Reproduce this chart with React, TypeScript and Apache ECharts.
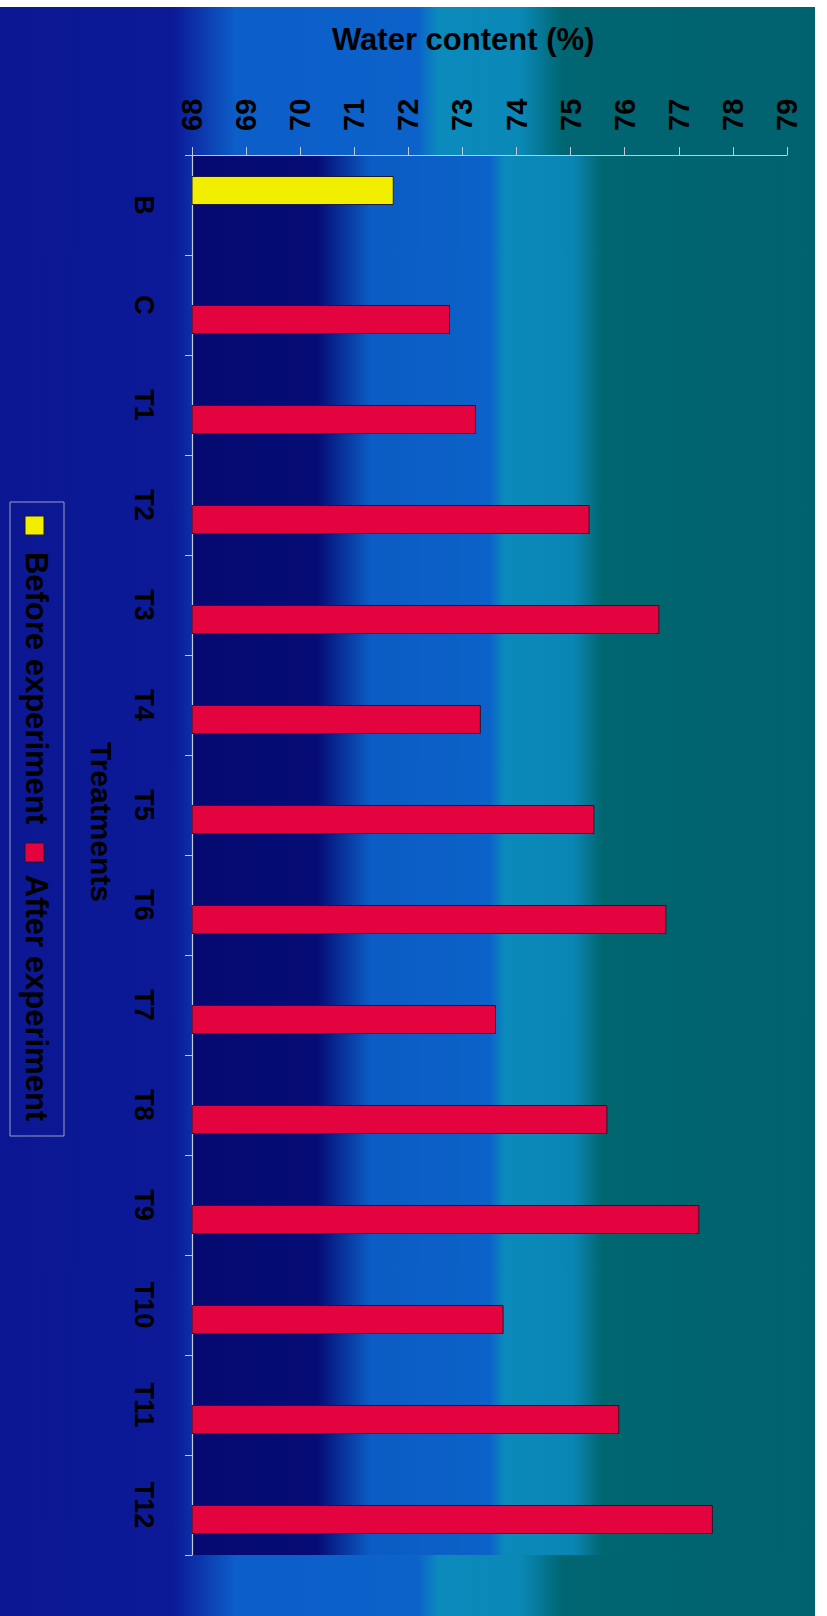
import React, { useEffect, useRef } from "react";
import * as echarts from "echarts";

// Treatments along the category axis (top to bottom)
const categories = ["B", "C", "T1", "T2", "T3", "T4", "T5", "T6", "T7", "T8", "T9", "T10", "T11", "T12"];

// Water content (%) per treatment
const beforeValues: (number | null)[] = [71.73, null, null, null, null, null, null, null, null, null, null, null, null, null];
const afterValues: (number | null)[] = [null, 72.77, 73.25, 75.35, 76.64, 73.34, 75.44, 76.77, 73.62, 75.68, 77.38, 73.76, 75.9, 77.63];

// Value axis range
const valueMin = 68;
const valueMax = 79;
const valueStep = 1;

const seriesNames = ["Before experiment", "After experiment"];
const valueTitle = "Water content (%)";
const categoryTitle = "Treatments";

const YELLOW = "#f2ee00";
const RED = "#e2033f";
const EDGE = "#1c1c2c";
const AXIS = "#c4c8d4";
const FONT = "Liberation Sans";

export default function App() {
  const ref = useRef<HTMLDivElement>(null);

  useEffect(() => {
    if (!ref.current) return;
    const chart = echarts.init(ref.current, undefined, { renderer: "svg" });

    const outerBg = new echarts.graphic.LinearGradient(0, 0, 1, 0, [
      { offset: 0, color: "#0b1792" },
      { offset: 0.21, color: "#0c1a98" },
      { offset: 0.285, color: "#0c5ec8" },
      { offset: 0.505, color: "#0c62ca" },
      { offset: 0.53, color: "#0b8bbc" },
      { offset: 0.63, color: "#0a88b6" },
      { offset: 0.68, color: "#006672" },
      { offset: 1, color: "#00626e" },
    ]);

    const plotBg = new echarts.graphic.LinearGradient(0, 0, 1, 0, [
      { offset: 0, color: "#040a70" },
      { offset: 0.21, color: "#050c74" },
      { offset: 0.3, color: "#0b5cc4" },
      { offset: 0.5, color: "#0b62c8" },
      { offset: 0.525, color: "#0a8abb" },
      { offset: 0.64, color: "#0a86b4" },
      { offset: 0.69, color: "#00666f" },
      { offset: 1, color: "#00626d" },
    ]);

    const rotText = (text: string, x: number, y: number, size: number) => ({
      type: "text",
      x,
      y,
      rotation: -Math.PI / 2,
      z: 20,
      style: {
        text,
        fill: "#000",
        fontFamily: FONT,
        fontWeight: "bold",
        fontSize: size,
        textAlign: "center",
        align: "center",
        textVerticalAlign: "middle",
        verticalAlign: "middle",
      },
    });

    const option: any = {
      animation: false,
      backgroundColor: outerBg,
      title: {
        text: valueTitle,
        left: 332,
        top: 24,
        padding: 0,
        textStyle: {
          fontFamily: FONT,
          fontWeight: "bold",
          fontSize: 31,
          color: "#000",
        },
      },
      grid: {
        left: 192,
        top: 155,
        width: 595,
        height: 1400,
        show: true,
        backgroundColor: plotBg,
        borderWidth: 0,
      },
      xAxis: {
        type: "value",
        position: "top",
        min: valueMin,
        max: valueMax,
        interval: valueStep,
        axisLine: { show: true, lineStyle: { color: AXIS, width: 1.2 } },
        axisTick: { show: true, length: 8, lineStyle: { color: AXIS, width: 1 } },
        splitLine: { show: false },
        axisLabel: {
          rotate: -90,
          margin: 24,
          color: "#000",
          fontFamily: FONT,
          fontWeight: "bold",
          fontSize: 29,
        },
      },
      yAxis: {
        type: "category",
        data: categories,
        inverse: true,
        axisLine: { show: true, lineStyle: { color: AXIS, width: 1.2 } },
        axisTick: { show: true, length: 7, alignWithLabel: false, lineStyle: { color: AXIS, width: 1 } },
        axisLabel: {
          rotate: -90,
          margin: 35,
          color: "#000",
          fontFamily: FONT,
          fontWeight: "bold",
          fontSize: 27,
        },
      },
      series: [
        {
          name: seriesNames[0],
          type: "bar",
          data: beforeValues,
          barWidth: 29,
          barGap: "0%",
          itemStyle: { color: YELLOW, borderColor: EDGE, borderWidth: 1 },
        },
        {
          name: seriesNames[1],
          type: "bar",
          data: afterValues,
          barWidth: 29,
          barGap: "0%",
          itemStyle: { color: RED, borderColor: EDGE, borderWidth: 1 },
        },
      ],
      graphic: [
        // paper edges
        { type: "rect", z: 30, shape: { x: 0, y: 0, width: 827, height: 7 }, style: { fill: "#ffffff" } },
        { type: "rect", z: 30, shape: { x: 815, y: 0, width: 12, height: 1616 }, style: { fill: "#ffffff" } },
        // category axis title
        rotText(categoryTitle, 101, 822, 30),
        // legend
        {
          type: "rect",
          z: 20,
          shape: { x: 10, y: 502, width: 54, height: 634 },
          style: { fill: "none", stroke: "#9aa0c0", lineWidth: 1 },
        },
        {
          type: "rect",
          z: 20,
          shape: { x: 25, y: 516, width: 19, height: 19 },
          style: { fill: YELLOW, stroke: EDGE, lineWidth: 1 },
        },
        rotText(seriesNames[0], 36, 688, 31),
        {
          type: "rect",
          z: 20,
          shape: { x: 25, y: 843, width: 19, height: 19 },
          style: { fill: RED, stroke: EDGE, lineWidth: 1 },
        },
        rotText(seriesNames[1], 36, 998, 31),
      ],
    };

    chart.setOption(option);
    return () => chart.dispose();
  }, []);

  return (
    <div
      ref={ref}
      style={{ position: "absolute", left: 0, top: 0, width: 827, height: 1616 }}
    />
  );
}
